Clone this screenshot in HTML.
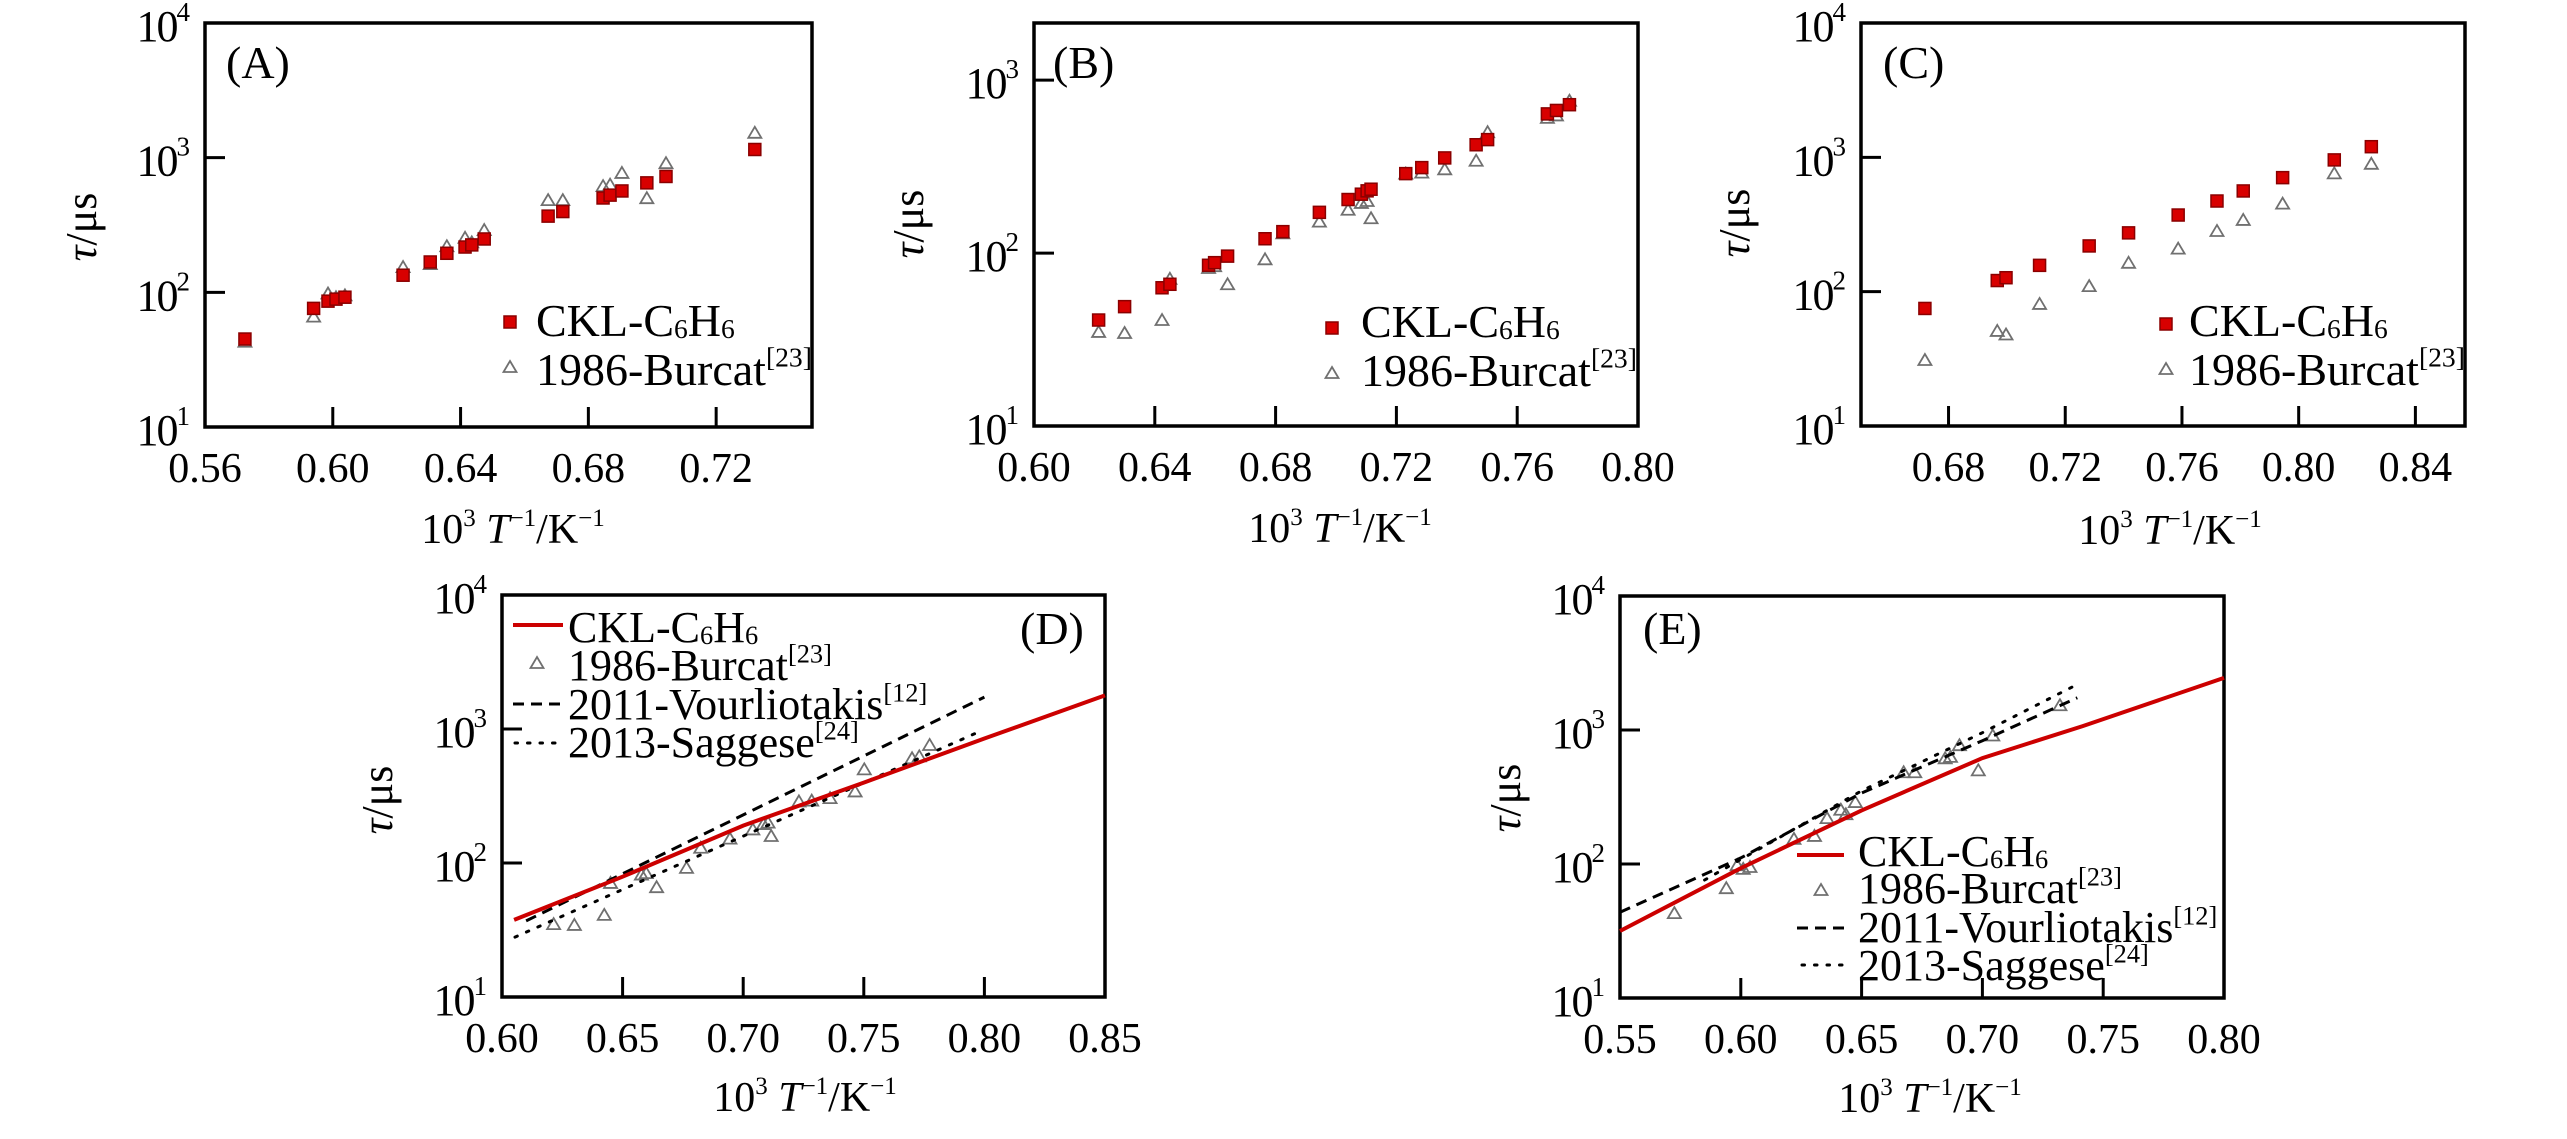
<!DOCTYPE html>
<html><head><meta charset="utf-8">
<style>
html,body{margin:0;padding:0;background:#fff;}
svg, svg text, svg tspan{font-family:"Liberation Serif","Times New Roman",serif !important;}
</style></head>
<body>
<svg id="fig" width="2567" height="1134" viewBox="0 0 2567 1134" font-family="Liberation Serif, serif" xmlns="http://www.w3.org/2000/svg"></svg>
<script>
// ---- Panel A data ----
const aX_ckl=[0.5725,0.594,0.5985,0.601,0.6038,0.622,0.6305,0.6357,0.6414,0.6435,0.6474,0.6674,0.672,0.6846,0.6868,0.6905,0.6983,0.7043,0.7321];
const aY_ckl=[45,76,86,89,92,134,168,195,217,225,249,368,398,502,527,566,650,725,1150];
const aX_bur=[0.5725,0.594,0.5985,0.601,0.6038,0.622,0.6305,0.6357,0.6414,0.6435,0.6474,0.6674,0.672,0.6846,0.6868,0.6905,0.6983,0.7043,0.7321];
const aY_bur=[43,66,98,92,95,154,162,220,254,235,290,484,484,615,630,770,500,910,1530];
// ---- Panel B data ----
const bX_ckl=[0.6214,0.630,0.6424,0.645,0.6578,0.6598,0.6641,0.6765,0.6824,0.6945,0.704,0.7084,0.7103,0.7116,0.7231,0.7284,0.736,0.7464,0.7502,0.770,0.773,0.7773];
const bY_ckl=[41,49,63,66,85,88,96,121,133,172,204,219,229,234,288,312,355,423,453,638,668,721];
const bX_bur=[0.6214,0.630,0.6424,0.645,0.6578,0.6598,0.6641,0.6765,0.6824,0.6945,0.704,0.7084,0.7103,0.7116,0.7231,0.7284,0.736,0.7464,0.7502,0.770,0.773,0.7773];
const bY_bur=[35,34.5,41,71,82,84,66,92,130,152,178,195,200,159,288,292,305,342,500,605,625,760];
// ---- Panel C data ----
const cX_ckl=[0.6719,0.6967,0.6997,0.7112,0.7282,0.7417,0.7587,0.772,0.781,0.7945,0.8122,0.8249];
const cY_ckl=[75,121,127,157,219,274,372,473,562,706,957,1200];
const cX_bur=[0.6719,0.6967,0.6997,0.7112,0.7282,0.7417,0.7587,0.772,0.781,0.7945,0.8122,0.8249];
const cY_bur=[31,51,48,81,110,164,209,283,342,452,760,895];
// ---- Panel D lines (triangles = panel B Burcat data) ----
const dX_ckl=[0.605,0.65,0.70,0.75,0.80,0.85];
const dY_ckl=[37.6,79,190,398,850,1780];
const dX_vou=[0.61,0.80];
const dY_vou=[37,1730];
const dX_sag=[0.6054,0.797];
const dY_sag=[28,940];
// ---- Panel E lines (triangles = panel A Burcat data) ----
const eX_ckl=[0.55,0.60,0.65,0.70,0.7415,0.80];
const eY_ckl=[31.6,93,251,617,1070,2450];
const eX_vou=[0.55,0.60,0.65,0.70,0.7393];
const eY_vou=[43.6,111,339,832,1740];
const eX_sag=[0.585,0.65,0.70,0.7371];
const eY_sag=[76,352,955,2090];

const NS="http://www.w3.org/2000/svg";
const FONT='Liberation Serif, Times New Roman, serif';
const fig=document.getElementById('fig');
function mk(tag,attrs,parent){const e=document.createElementNS(NS,tag);for(const k in attrs)e.setAttribute(k,attrs[k]);if(tag==='text')e.setAttribute('font-family',FONT);(parent||fig).appendChild(e);return e;}

function makeAxes(o){
  const g=mk('g',{});
  
  
  const sx=v=>o.L+(v-o.x0)/(o.x1-o.x0)*(o.R-o.L);
  const sy=v=>o.B-(Math.log10(v)-o.y0)/(o.y1-o.y0)*(o.B-o.T);
  const box=mk('rect',{x:o.L,y:o.T,width:o.R-o.L,height:o.B-o.T,fill:'none',stroke:'#000','stroke-width':3.5},g);
  
  
  o.xt.forEach(v=>{
    const x=sx(v);
    if(x>o.L+3&&x<o.R-3){const t=mk('line',{x1:x,x2:x,y1:o.B,y2:o.B-20,stroke:'#000','stroke-width':3},g);
      
      }
    const tl=mk('text',{x:x,y:o.B+55,'font-size':42,'text-anchor':'middle'},g);
    tl.textContent=v.toFixed(2);
    
    
  });
  o.yt.forEach(p=>{
    const y=sy(Math.pow(10,p));
    if(y>o.T+3&&y<o.B-3){const t=mk('line',{x1:o.L,x2:o.L+20,y1:y,y2:y,stroke:'#000','stroke-width':3},g);
      
      }
    const tl=mk('text',{x:o.L-17,y:y+18,'font-size':44,'text-anchor':'end','letter-spacing':-2},g);
    
    
    const a=mk('tspan',{},tl);a.textContent='10';
    const b=mk('tspan',{'font-size':27,dy:-20},tl);b.textContent=String(p);
  });
  const xl=mk('text',{x:o.xlx,y:o.xly,'font-size':42,'text-anchor':'middle'},g);
  
  
  let s=mk('tspan',{},xl);s.textContent='10';
  s=mk('tspan',{'font-size':25,dy:-17},xl);s.textContent='3';
  s=mk('tspan',{dy:17},xl);s.textContent=' ';
  s=mk('tspan',{'font-style':'italic'},xl);s.textContent='T';
  s=mk('tspan',{'font-size':25,dy:-17},xl);s.textContent='\u22121';
  s=mk('tspan',{dy:17},xl);s.textContent='/K';
  s=mk('tspan',{'font-size':25,dy:-17},xl);s.textContent='\u22121';
  const yl=mk('text',{x:0,y:0,'font-size':44,'text-anchor':'middle',transform:`translate(${o.ylx+14},${o.yly}) rotate(-90)`},g);
  
  
  s=mk('tspan',{'font-style':'italic'},yl);s.textContent='\u03c4';
  s=mk('tspan',{},yl);s.textContent='/\u03bcs';
  const pl=mk('text',{x:o.plx,y:o.ply,'font-size':46},g);
  pl.textContent='('+o.id.toUpperCase()+')';
  
  
  return {g,sx,sy};
}
function square(g,x,y){const r=mk('rect',{x:x-6,y:y-6,width:12,height:12,fill:'#d80000',stroke:'#8a0000','stroke-width':1.5},g);
  
  return r;}
function tri(g,x,y){const p=mk('path',{d:`M${x} ${y-6}L${x+6.5} ${y+5}L${x-6.5} ${y+5}Z`,fill:'none',stroke:'#707070','stroke-width':1.8},g);
  
  return p;}
function line(g,ax,xs,ys,attrs,name){
  const pts=xs.map((v,i)=>ax.sx(v).toFixed(1)+','+ax.sy(ys[i]).toFixed(1)).join(' ');
  const l=mk('polyline',Object.assign({points:pts,fill:'none'},attrs),g);
  
  return l;}
function legText(g,x,y,kind,size){
  const t=mk('text',{x:x,y:y,'font-size':size},g);
  
  
  let s;
  if(kind==='ckl'){s=mk('tspan',{},t);s.textContent='CKL-C';s=mk('tspan',{'font-size':size*0.6,dy:2},t);s.textContent='6';
    s=mk('tspan',{dy:-2},t);s.textContent='H';s=mk('tspan',{'font-size':size*0.6,dy:2},t);s.textContent='6';}
  else{const nm={bur:['1986-Burcat','23'],vou:['2011-Vourliotakis','12'],sag:['2013-Saggese','24']}[kind];
    s=mk('tspan',{},t);s.textContent=nm[0];s=mk('tspan',{'font-size':size*0.6,dy:-size*0.4},t);s.textContent='['+nm[1]+']';}
  return t;}
const solid={stroke:'#cc0000','stroke-width':4};
const dash={stroke:'#000','stroke-width':3,'stroke-dasharray':'11 7'};
const dot={stroke:'#000','stroke-width':3,'stroke-dasharray':'2.5 10','stroke-linecap':'round'};

let ax=makeAxes({id:'a',L:205,R:812,T:23,B:427,x0:0.56,x1:0.75,y0:1,y1:4,xt:[0.56,0.60,0.64,0.68,0.72],yt:[1,2,3,4],xlx:513,xly:543,ylx:82,yly:227,plx:226,ply:78});
aX_bur.forEach((v,i)=>tri(ax.g,ax.sx(v),ax.sy(aY_bur[i])));
aX_ckl.forEach((v,i)=>square(ax.g,ax.sx(v),ax.sy(aY_ckl[i])));
square(ax.g,510,322);legText(ax.g,536,336,'ckl',46);
tri(ax.g,510,367);legText(ax.g,536,385,'bur',46);

ax=makeAxes({id:'b',L:1034,R:1638,T:23,B:426,x0:0.60,x1:0.80,y0:1,y1:Math.log10(2140),xt:[0.60,0.64,0.68,0.72,0.76,0.80],yt:[1,2,3],xlx:1340,xly:542,ylx:909,yly:224,plx:1053,ply:78});
bX_bur.forEach((v,i)=>tri(ax.g,ax.sx(v),ax.sy(bY_bur[i])));
bX_ckl.forEach((v,i)=>square(ax.g,ax.sx(v),ax.sy(bY_ckl[i])));
square(ax.g,1332,328);legText(ax.g,1361,337,'ckl',46);
tri(ax.g,1332,373);legText(ax.g,1361,386,'bur',46);

ax=makeAxes({id:'c',L:1861,R:2465,T:23,B:426,x0:0.65,x1:0.857,y0:1,y1:4,xt:[0.68,0.72,0.76,0.80,0.84],yt:[1,2,3,4],xlx:2170,xly:544,ylx:1735,yly:223,plx:1883,ply:78});
cX_bur.forEach((v,i)=>tri(ax.g,ax.sx(v),ax.sy(cY_bur[i])));
cX_ckl.forEach((v,i)=>square(ax.g,ax.sx(v),ax.sy(cY_ckl[i])));
square(ax.g,2166,324);legText(ax.g,2189,336,'ckl',46);
tri(ax.g,2166,369);legText(ax.g,2189,385,'bur',46);

ax=makeAxes({id:'d',L:502,R:1105,T:595,B:997,x0:0.60,x1:0.85,y0:1,y1:4,xt:[0.60,0.65,0.70,0.75,0.80,0.85],yt:[1,2,3,4],xlx:805,xly:1111,ylx:378,yly:800,plx:1020,ply:644});
bX_bur.forEach((v,i)=>{if(v>=0.62)tri(ax.g,ax.sx(v),ax.sy(bY_bur[i]));});
line(ax.g,ax,dX_sag,dY_sag,dot,'saggese-line');
line(ax.g,ax,dX_vou,dY_vou,dash,'vourliotakis-line');
line(ax.g,ax,dX_ckl,dY_ckl,solid,'ckl-line');
mk('line',Object.assign({x1:513,x2:563,y1:625,y2:625},solid),ax.g);
legText(ax.g,568,642,'ckl',44);
tri(ax.g,537,663);legText(ax.g,568,680,'bur',44);
mk('line',Object.assign({x1:513,x2:563,y1:704,y2:704},dash),ax.g);
legText(ax.g,568,719,'vou',44);
mk('line',Object.assign({x1:515,x2:563,y1:743,y2:743},dot),ax.g);
legText(ax.g,568,757,'sag',44);

ax=makeAxes({id:'e',L:1620,R:2224,T:596,B:998,x0:0.55,x1:0.80,y0:1,y1:4,xt:[0.55,0.60,0.65,0.70,0.75,0.80],yt:[1,2,3,4],xlx:1930,xly:1112,ylx:1506,yly:798,plx:1643,ply:644});
aX_bur.forEach((v,i)=>tri(ax.g,ax.sx(v),ax.sy(aY_bur[i])));
line(ax.g,ax,eX_sag,eY_sag,dot,'saggese-line');
line(ax.g,ax,eX_vou,eY_vou,dash,'vourliotakis-line');
line(ax.g,ax,eX_ckl,eY_ckl,solid,'ckl-line');
mk('line',Object.assign({x1:1797,x2:1844,y1:855,y2:855},solid),ax.g);
legText(ax.g,1858,866,'ckl',44);
tri(ax.g,1821,890);legText(ax.g,1858,903,'bur',44);
mk('line',Object.assign({x1:1797,x2:1844,y1:928,y2:928},dash),ax.g);
legText(ax.g,1858,942,'vou',44);
mk('line',Object.assign({x1:1802,x2:1844,y1:965,y2:965},dot),ax.g);
legText(ax.g,1858,980,'sag',44);
</script>
</body></html>
